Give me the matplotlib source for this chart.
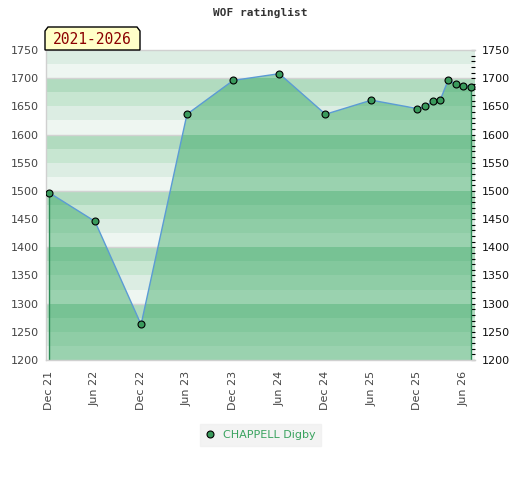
import matplotlib
matplotlib.use("Agg")
import matplotlib.pyplot as plt
import matplotlib.dates as mdates
import matplotlib.ticker as mticker
from matplotlib.patches import Polygon
from matplotlib.lines import Line2D
import numpy as np

# rating history (month, rating)
months = ['2021-12', '2022-06', '2022-12', '2023-06', '2023-12', '2024-06',
          '2024-12', '2025-06', '2025-12', '2026-01', '2026-02', '2026-03',
          '2026-04', '2026-05', '2026-06', '2026-07']
ratings = [1497, 1446, 1263, 1636, 1696, 1708,
           1636, 1661, 1646, 1650, 1659, 1661,
           1696, 1690, 1687, 1685]
player = 'CHAPPELL Digby'
period = '2021-2026'

y_min, y_max = 1200, 1750
pale_bands = ['#b1dbbf', '#c7e6d1', '#dcede3', '#eef6f1']   # top -> bottom within each 100
dark_bands = ['#77c294', '#83c89d', '#8fcda6', '#9ad2af']

x = np.array(months, dtype='datetime64[M]').astype('datetime64[D]')
xn = mdates.date2num(x)

fig = plt.figure(figsize=(5.2, 4.8), dpi=100)
ax = fig.add_axes([46 / 520, 1 - 360 / 480, 429 / 520, 310 / 480])

# banded background (pale) and banded area under the line (dark)
area = Polygon(np.column_stack([np.r_[xn[0], xn, xn[-1]],
                                np.r_[y_min, ratings, y_min]]),
               closed=True, transform=ax.transData, facecolor='none', edgecolor='none')
ax.add_patch(area)
for lo in range(y_min, y_max, 25):
    idx = 3 - (lo % 100) // 25
    ax.axhspan(lo, lo + 25, color=pale_bands[idx], lw=0, zorder=0)
    s = ax.axhspan(lo, lo + 25, color=dark_bands[idx], lw=0, zorder=1)
    s.set_clip_path(area)
for g in range(1300, y_max, 100):
    ax.axhline(g, color='#d2d2d2', lw=1, zorder=0.5)

ax.vlines([xn[0], xn[-1]], y_min, [ratings[0], ratings[-1]], color='#2e8b57', lw=1, zorder=2)
ax.plot(xn, ratings, color='#5b9bd5', lw=1, zorder=3)
ax.plot(xn, ratings, 'o', ms=5, mfc='#3a9a5c', mec='black', mew=0.8, zorder=4)

ax.set_ylim(y_min, y_max)
ax.set_xlim(mdates.date2num(np.datetime64('2021-11-19')),
            mdates.date2num(np.datetime64('2026-07-17')))

ax.xaxis.set_major_locator(mdates.MonthLocator(bymonth=[6, 12]))
ax.xaxis.set_major_formatter(mdates.DateFormatter('%b %y'))
ax.tick_params(axis='x', length=0, labelsize=8, labelcolor='#444444', rotation=90, pad=8)

ax.yaxis.set_major_locator(mticker.MultipleLocator(50))
ax.yaxis.set_minor_locator(mticker.MultipleLocator(10))
ax.tick_params(axis='y', which='both', left=False, right=True, labelleft=True,
               labelright=True, direction='in', length=3, width=0.8, color='black',
               labelsize=8, pad=5)
for lab in ax.get_yticklabels():
    lab.set_color('#444444')
ax.tick_params(axis='y', which='major', labelright=True)
for t in ax.yaxis.get_major_ticks():
    t.label2.set_color('#111111')
    t.label2.set_x(1.0)

for side in ['left', 'bottom', 'top', 'right']:
    ax.spines[side].set_color('#d0d0d0')
    ax.spines[side].set_linewidth(1)
ax.spines['right'].set_visible(False)

fig.text(0.5, 1 - 13 / 480, 'WOF ratinglist', ha='center', va='center',
         family='DejaVu Sans Mono', fontsize=8, fontweight='bold', color='#333333')

# period tag with chamfered corners
W, H = 520, 480
px = [45, 140, 140, 137, 48, 45]
py = [50, 50, 31, 27, 27, 31]
fig.patches.append(Polygon(np.column_stack([np.array(px) / W, 1 - np.array(py) / H]),
                           closed=True, transform=fig.transFigure,
                           facecolor='#ffffc8', edgecolor='black', lw=1, zorder=5))
fig.text(92.5 / W, 1 - 39.5 / H, period, ha='center', va='center', zorder=6,
         family='DejaVu Sans Mono', fontsize=10.5, color='#8b0000')

handle = Line2D([], [], ls='none', marker='o', ms=5, mfc='#3a9a5c', mec='black', mew=0.8)
leg = fig.legend([handle], [player], loc='center', bbox_to_anchor=(260.5 / W, 1 - 435 / H),
                 frameon=True, fancybox=False, fontsize=8, handlelength=0.8,
                 handletextpad=0.8, borderpad=0.5)
leg.get_frame().set_facecolor('#f0f0f0')
leg.get_frame().set_edgecolor('#f0f0f0')
for t in leg.get_texts():
    t.set_color('#3aa35f')

fig.savefig('out.png', dpi=100)
